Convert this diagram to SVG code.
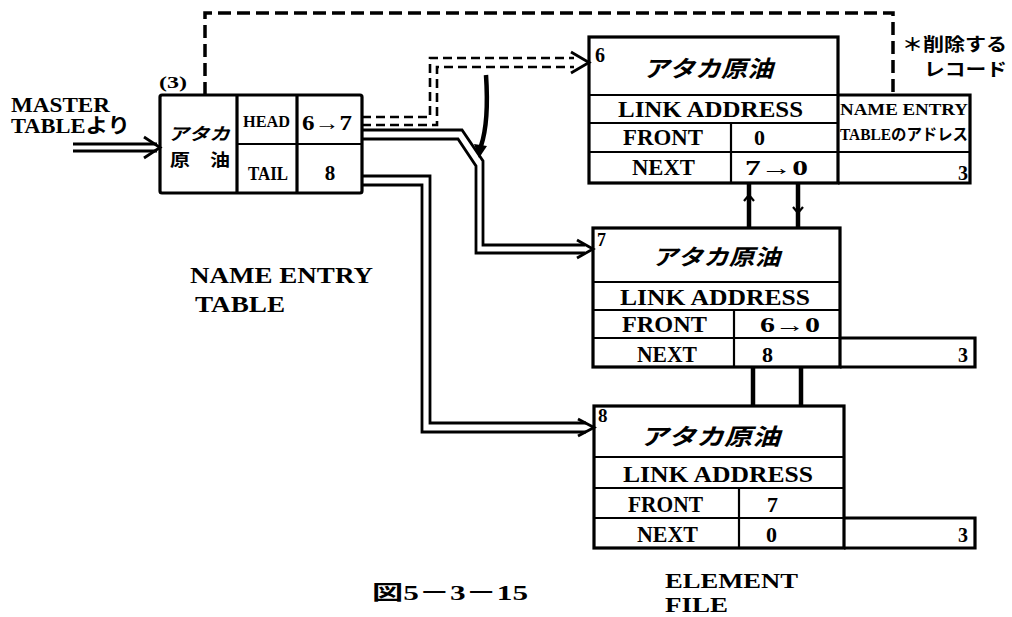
<svg xmlns="http://www.w3.org/2000/svg" width="1012" height="617" viewBox="0 0 1012 617">
<style>
.box{fill:none;stroke:#000;stroke-width:3.2}
.ln{fill:none;stroke:#000;stroke-width:2.2}
.t{font-family:"Liberation Serif","Noto Sans CJK JP",serif;font-weight:bold;fill:#000}
.j{font-family:"Noto Sans CJK JP",sans-serif;font-weight:bold;fill:#000}
.ji{font-family:"Noto Sans CJK JP",sans-serif;font-weight:bold;font-style:italic;fill:#000}
.c{text-anchor:middle}
.dl{fill:none;stroke:#000;stroke-width:3.5;stroke-dasharray:13 6}
.dd{fill:none;stroke:#000;stroke-width:2.6;stroke-dasharray:9 5}
.sl{fill:none;stroke:#000;stroke-width:2.8}
.lk{fill:none;stroke:#000;stroke-width:4.5}
</style>
<rect width="1012" height="617" fill="#fff"/>

<g id="labels">
<text class="t" font-size="20"><tspan x="11" y="112" textLength="99" lengthAdjust="spacingAndGlyphs">MASTER</tspan><tspan x="11" y="133" textLength="119" lengthAdjust="spacingAndGlyphs">TABLEより</tspan></text>
<text class="t" font-size="23"><tspan x="190" y="283" textLength="183" lengthAdjust="spacingAndGlyphs">NAME ENTRY</tspan><tspan x="195" y="312" textLength="90" lengthAdjust="spacingAndGlyphs">TABLE</tspan></text>
<text class="t" x="372" y="600" font-size="20" textLength="156" lengthAdjust="spacingAndGlyphs">図5－3－15</text>
<text class="t" font-size="22"><tspan x="665" y="588" textLength="133" lengthAdjust="spacingAndGlyphs">ELEMENT</tspan><tspan x="665" y="612" textLength="63" lengthAdjust="spacingAndGlyphs">FILE</tspan></text>
<text class="j" font-size="18"><tspan x="902" y="51" textLength="105" lengthAdjust="spacingAndGlyphs">＊削除する</tspan><tspan x="924" y="76" textLength="83" lengthAdjust="spacingAndGlyphs">レコード</tspan></text>
</g>

<g id="name-entry-table">
<rect class="box" x="160" y="95" width="202" height="98" rx="2"/>
<line class="box" x1="237" y1="95" x2="237" y2="193"/>
<line class="box" x1="297" y1="95" x2="297" y2="193"/>
<line class="ln" x1="237" y1="144" x2="362" y2="144"/>
<text class="t" x="159" y="88" font-size="17" textLength="28" lengthAdjust="spacingAndGlyphs">(3)</text>
<text class="ji" font-size="17"><tspan x="168" y="140" textLength="62" lengthAdjust="spacingAndGlyphs">アタカ</tspan><tspan x="170" y="166" font-style="normal" textLength="60" lengthAdjust="spacingAndGlyphs">原　油</tspan></text>
<text class="t" x="243" y="127" font-size="16" textLength="47" lengthAdjust="spacingAndGlyphs">HEAD</text>
<text class="t" x="302" y="130" font-size="20" textLength="50" lengthAdjust="spacingAndGlyphs">6→7</text>
<text class="t" x="248" y="180" font-size="18" textLength="40" lengthAdjust="spacingAndGlyphs">TAIL</text>
<text class="t c" x="330" y="180" font-size="21">8</text>
</g>

<g id="element-6">
<rect class="box" x="589" y="37" width="249" height="146"/>
<line class="ln" x1="589" y1="95" x2="838" y2="95"/>
<line class="ln" x1="589" y1="123" x2="838" y2="123"/>
<line class="ln" x1="589" y1="152" x2="838" y2="152"/>
<line class="ln" x1="731" y1="123" x2="731" y2="183"/>
<path class="box" d="M838,95 H970 V183 H838"/>
<line class="ln" x1="838" y1="152" x2="970" y2="152"/>
<text class="t" x="595" y="62" font-size="20">6</text>
<text class="ji" x="643" y="77" font-size="23" textLength="130" lengthAdjust="spacingAndGlyphs">アタカ原油</text>
<text class="t" x="618" y="117" font-size="23" textLength="185" lengthAdjust="spacingAndGlyphs">LINK ADDRESS</text>
<text class="t" x="623" y="145" font-size="23" textLength="80" lengthAdjust="spacingAndGlyphs">FRONT</text>
<text class="t" x="632" y="175" font-size="23" textLength="63" lengthAdjust="spacingAndGlyphs">NEXT</text>
<text class="t" x="754" y="145" font-size="22">0</text>
<text class="t" x="745" y="175" font-size="22" textLength="63" lengthAdjust="spacingAndGlyphs">7→0</text>
<text class="t" font-size="16"><tspan x="840" y="115" textLength="128" lengthAdjust="spacingAndGlyphs">NAME ENTRY</tspan><tspan x="840" y="140" textLength="128" lengthAdjust="spacingAndGlyphs">TABLEのアドレス</tspan></text>
<text class="t" x="968" y="180" font-size="20" text-anchor="end">3</text>
</g>

<g id="element-7">
<rect class="box" x="593" y="228" width="247" height="139"/>
<line class="ln" x1="593" y1="282" x2="840" y2="282"/>
<line class="ln" x1="593" y1="310" x2="840" y2="310"/>
<line class="ln" x1="593" y1="338" x2="840" y2="338"/>
<line class="ln" x1="734" y1="310" x2="734" y2="367"/>
<path class="box" d="M840,338 H975 V367 H840"/>
<text class="t" x="597" y="246" font-size="18">7</text>
<text class="ji" x="652" y="265" font-size="22" textLength="128" lengthAdjust="spacingAndGlyphs">アタカ原油</text>
<text class="t" x="620" y="305" font-size="23" textLength="190" lengthAdjust="spacingAndGlyphs">LINK ADDRESS</text>
<text class="t" x="622" y="332" font-size="23" textLength="85" lengthAdjust="spacingAndGlyphs">FRONT</text>
<text class="t" x="637" y="362" font-size="23" textLength="60" lengthAdjust="spacingAndGlyphs">NEXT</text>
<text class="t" x="760" y="332" font-size="22" textLength="60" lengthAdjust="spacingAndGlyphs">6→0</text>
<text class="t" x="762" y="362" font-size="22">8</text>
<text class="t" x="968" y="362" font-size="20" text-anchor="end">3</text>
</g>

<g id="element-8">
<rect class="box" x="594" y="406" width="250" height="142"/>
<line class="ln" x1="594" y1="457" x2="844" y2="457"/>
<line class="ln" x1="594" y1="488" x2="844" y2="488"/>
<line class="ln" x1="594" y1="518" x2="844" y2="518"/>
<line class="ln" x1="739" y1="488" x2="739" y2="548"/>
<path class="box" d="M844,518 H975 V548 H844"/>
<text class="t" x="598" y="422" font-size="19">8</text>
<text class="ji" x="640" y="445" font-size="23" textLength="140" lengthAdjust="spacingAndGlyphs">アタカ原油</text>
<text class="t" x="623" y="482" font-size="23" textLength="190" lengthAdjust="spacingAndGlyphs">LINK ADDRESS</text>
<text class="t" x="628" y="512" font-size="23" textLength="75" lengthAdjust="spacingAndGlyphs">FRONT</text>
<text class="t" x="637" y="542" font-size="23" textLength="61" lengthAdjust="spacingAndGlyphs">NEXT</text>
<text class="t" x="767" y="512" font-size="22">7</text>
<text class="t" x="766" y="542" font-size="22">0</text>
<text class="t" x="968" y="542" font-size="20" text-anchor="end">3</text>
</g>

<g id="connectors">
<!-- MASTER TABLE input -->
<line class="sl" x1="73" y1="144" x2="157" y2="144"/>
<line class="sl" x1="73" y1="151" x2="157" y2="151"/>
<path class="sl" d="M144,137 L160,147.5 L144,158"/>
<!-- deletion dashed line -->
<path class="dl" d="M205,95 V13 H893 V95"/>
<!-- HEAD to 6 (dashed double) -->
<path class="dd" d="M362,117 H430 V58 H574"/>
<path class="dd" d="M362,125 H437 V67 H574"/>
<path class="sl" d="M571,52 L589,62.5 L571,73"/>
<!-- HEAD to 7 (solid double) -->
<path class="sl" d="M362,130 H462 L483,161 V245 H585"/>
<path class="sl" d="M362,139 H458 L476,166 V253 H585"/>
<path class="sl" d="M577,240 L593,249 L577,258"/>
<!-- change arrow -->
<path class="lk" d="M486,75 C488,105 487,128 481,146"/>
<path d="M474,144 L479,158 L487,146 Z" fill="#000"/>
<!-- TAIL to 8 (solid double) -->
<path class="sl" d="M362,176 H430 V423 H586"/>
<path class="sl" d="M362,185 H422 V432 H586"/>
<path class="sl" d="M578,419 L594,427.5 L578,436"/>
<!-- links 6-7 -->
<line class="lk" x1="749" y1="183" x2="749" y2="228"/>
<line class="lk" x1="798" y1="183" x2="798" y2="228"/>
<path class="ln" d="M744,201 L749,195 L754,201"/>
<path class="ln" d="M793,207 L798,213 L803,207"/>
<!-- links 7-8 -->
<line class="lk" x1="753" y1="367" x2="753" y2="406"/>
<line class="lk" x1="801" y1="367" x2="801" y2="406"/>
</g>
</svg>
